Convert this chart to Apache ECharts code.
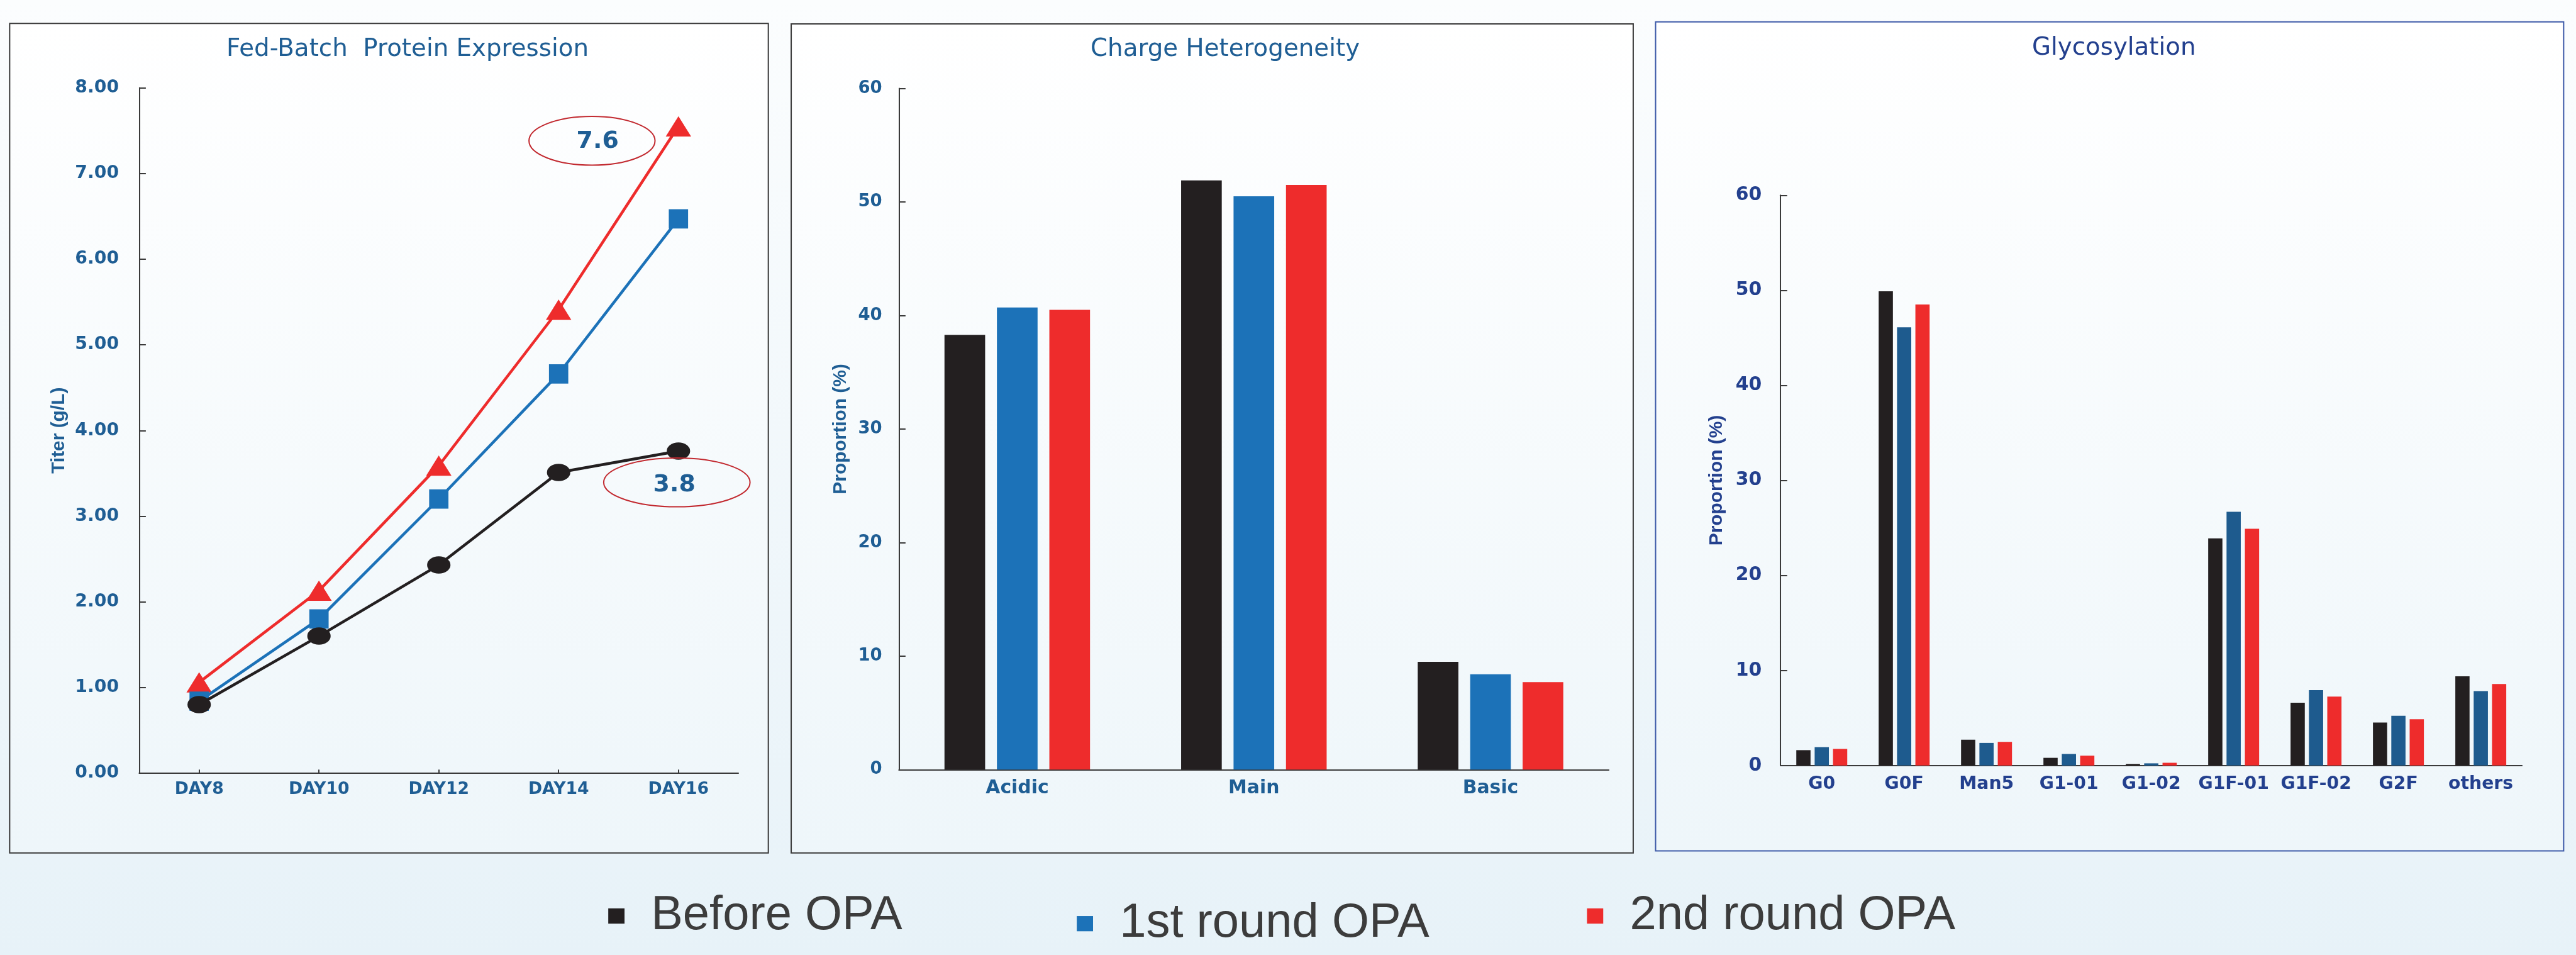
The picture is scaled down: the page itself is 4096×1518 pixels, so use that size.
<!DOCTYPE html>
<html><head><meta charset="utf-8">
<script src="https://cdn.jsdelivr.net/npm/echarts@6/dist/echarts.min.js"></script>
<style>html,body{margin:0;padding:0;width:4096px;height:1518px;overflow:hidden;background:#eef6fa}
#c{width:4096px;height:1518px}</style></head><body><div id="c"></div>
<script>
// ---- data ----
const seriesNames = ['Before OPA', '1st round OPA', '2nd round OPA'];
const days = ['DAY8', 'DAY10', 'DAY12', 'DAY14', 'DAY16'];
const titerBefore = [0.80, 1.60, 2.43, 3.51, 3.76];
const titer1st = [0.84, 1.80, 3.20, 4.66, 6.47];
const titer2nd = [1.06, 2.13, 3.59, 5.41, 7.55];
const titerCallouts = ['7.6', '3.8'];
const chargeCats = ['Acidic', 'Main', 'Basic'];
const chargeBefore = [38.3, 51.9, 9.5];
const charge1st = [40.7, 50.5, 8.4];
const charge2nd = [40.5, 51.5, 7.7];
const glycoCats = ['G0', 'G0F', 'Man5', 'G1-01', 'G1-02', 'G1F-01', 'G1F-02', 'G2F', 'others'];
const glycoBefore = [1.62, 49.9, 2.72, 0.81, 0.17, 23.9, 6.6, 4.52, 9.39];
const glyco1st = [1.94, 46.1, 2.38, 1.22, 0.23, 26.7, 7.94, 5.23, 7.83];
const glyco2nd = [1.75, 48.5, 2.49, 1.04, 0.29, 24.9, 7.25, 4.87, 8.58];
const titles = ['Fed-Batch  Protein Expression', 'Charge Heterogeneity', 'Glycosylation'];
const yNames = ['Titer (g/L)', 'Proportion (%)', 'Proportion (%)'];

// ---- layout (reference px scaled) ----
const S = 0.808;
const s = v => v * S;
const BLUE_T = '#1f5e94', NAVY_T = '#23408e';
const C_BLACK = '#231f20', C_BLUE = '#1c72b8', C_BLUE3 = '#1e5b8e', C_RED = '#ee2c2c';
const AX = { lineStyle: { color: '#3a3a3a', width: s(2.5) } };
const panelFill = { type: 'linear', x: 0, y: 0, x2: 0, y2: 1,
  colorStops: [{ offset: 0, color: '#ffffff' }, { offset: 1, color: '#eef6fa' }] };

function panel(x1, y1, x2, y2, stroke) {
  return { type: 'rect', z: -10, shape: { x: s(x1), y: s(y1), width: s(x2 - x1), height: s(y2 - y1) },
    style: { fill: panelFill, stroke: stroke, lineWidth: s(2.5) } };
}
function ell(cx, cy, rx, ry) {
  return { type: 'ellipse', z: 10, shape: { cx: s(cx), cy: s(cy), rx: s(rx), ry: s(ry) },
    style: { fill: null, stroke: '#c22a30', lineWidth: s(2.5) } };
}
function txt(x, y, t) {
  return { type: 'text', z: 11, x: s(x), y: s(y),
    style: { text: t, fill: BLUE_T, font: 'bold ' + s(47) + 'px "DejaVu Sans"', align: 'center', verticalAlign: 'middle' } };
}
function yAxisCfg(gi, max, interval, color, fs, margin, name, nameGap, fmt) {
  return { type: 'value', gridIndex: gi, min: 0, max: max, interval: interval,
    axisLine: { show: true, ...AX }, splitLine: { show: false },
    axisTick: { show: true, inside: true, length: s(13), lineStyle: { color: '#3a3a3a', width: s(2.5) } },
    axisLabel: { margin: s(margin), color: color, fontFamily: 'DejaVu Sans', fontWeight: 'bold', fontSize: s(fs), formatter: fmt },
    name: name, nameLocation: 'middle', nameRotate: 90, nameGap: s(nameGap),
    nameTextStyle: { color: color, fontFamily: '"Liberation Sans Narrow", "Liberation Sans", sans-serif', fontWeight: 'bold', fontSize: s(37) } };
}
function xAxisCfg(gi, data, color, fs, margin, tick) {
  return { type: 'category', gridIndex: gi, data: data, boundaryGap: true,
    axisLine: { show: true, ...AX },
    axisTick: tick ? { show: true, inside: true, alignWithLabel: true, length: s(7), lineStyle: { color: '#3a3a3a', width: s(2.5) } } : { show: false },
    axisLabel: { interval: 0, margin: s(margin), color: color, fontFamily: 'DejaVu Sans', fontWeight: 'bold', fontSize: s(fs) } };
}
function lineS(name, data, color, symbol, size, z) {
  return { type: 'line', name: name, xAxisIndex: 0, yAxisIndex: 0, data: data, z: z,
    symbol: symbol, symbolSize: size, showSymbol: true,
    lineStyle: { color: color, width: s(5.5) }, itemStyle: { color: color, opacity: 1 } };
}
function barS(idx, name, data, color, bw) {
  return { type: 'bar', name: name, xAxisIndex: idx, yAxisIndex: idx, data: data,
    barWidth: s(bw), barGap: '29%', itemStyle: { color: color } };
}
function legendCfg(name, left, top) {
  return { data: [{ name: name, icon: 'rect' }], left: s(left), top: s(top), padding: 0,
    itemWidth: s(32), itemHeight: s(30),
    textStyle: { fontFamily: '"Liberation Sans", Arial, sans-serif', fontSize: s(94), color: '#3c3c3c', padding: [0, 0, 0, s(46)] } };
}

const chart = echarts.init(document.getElementById('c'), null, { renderer: 'canvas' });
chart.setOption({
  animation: false,
  backgroundColor: { type: 'linear', x: 0, y: 0, x2: 0, y2: 1,
    colorStops: [{ offset: 0, color: '#fbfdfe' }, { offset: 1, color: '#e7f2f8' }] },
  title: [
    { text: titles[0], left: s(802), top: s(73), textAlign: 'center', padding: 0,
      textStyle: { fontFamily: 'DejaVu Sans', fontWeight: 'normal', fontSize: s(48), color: BLUE_T } },
    { text: titles[1], left: s(2411), top: s(73), textAlign: 'center', padding: 0,
      textStyle: { fontFamily: 'DejaVu Sans', fontWeight: 'normal', fontSize: s(48), color: BLUE_T } },
    { text: titles[2], left: s(4160), top: s(71), textAlign: 'center', padding: 0,
      textStyle: { fontFamily: 'DejaVu Sans', fontWeight: 'normal', fontSize: s(48), color: NAVY_T } }
  ],
  legend: [
    legendCfg(seriesNames[0], 1197, 1755),
    legendCfg(seriesNames[1], 2119, 1770),
    legendCfg(seriesNames[2], 3123, 1755)
  ],
  grid: [
    { left: s(274), top: s(172.7), width: s(1179), height: s(1348.3) },
    { left: s(1769), top: s(174), width: s(1397), height: s(1340) },
    { left: s(3504), top: s(384), width: s(1459), height: s(1122) }
  ],
  xAxis: [
    xAxisCfg(0, days, BLUE_T, 33, 16, true),
    xAxisCfg(1, chargeCats, BLUE_T, 37, 18, false),
    xAxisCfg(2, glycoCats, NAVY_T, 35, 19, false)
  ],
  yAxis: [
    yAxisCfg(0, 8, 1, BLUE_T, 35, 40, yNames[0], 140, v => v.toFixed(2)),
    yAxisCfg(1, 60, 10, BLUE_T, 34, 33, yNames[1], 96),
    yAxisCfg(2, 60, 10, NAVY_T, 37, 37, yNames[2], 107)
  ],
  series: [
    lineS(seriesNames[0], titerBefore, C_BLACK, 'circle', [s(46), s(34)], 5),
    lineS(seriesNames[1], titer1st, C_BLUE, 'rect', s(38), 4),
    lineS(seriesNames[2], titer2nd, C_RED, 'triangle', [s(50), s(40)], 3),
    barS(1, seriesNames[0], chargeBefore, C_BLACK, 80),
    barS(1, seriesNames[1], charge1st, C_BLUE, 80),
    barS(1, seriesNames[2], charge2nd, C_RED, 80),
    barS(2, seriesNames[0], glycoBefore, C_BLACK, 28),
    barS(2, seriesNames[1], glyco1st, C_BLUE3, 28),
    barS(2, seriesNames[2], glyco2nd, C_RED, 28)
  ],
  graphic: [
    panel(19, 46, 1512, 1678, '#3a3a3a'),
    panel(1557, 47, 3214, 1678, '#3a3a3a'),
    panel(3258, 43, 5045, 1674, '#3d5aa8'),
    ell(1165, 277, 124, 48), txt(1176, 279, titerCallouts[0]),
    ell(1332, 949, 144, 48), txt(1327, 954, titerCallouts[1])
  ]
});
</script></body></html>
